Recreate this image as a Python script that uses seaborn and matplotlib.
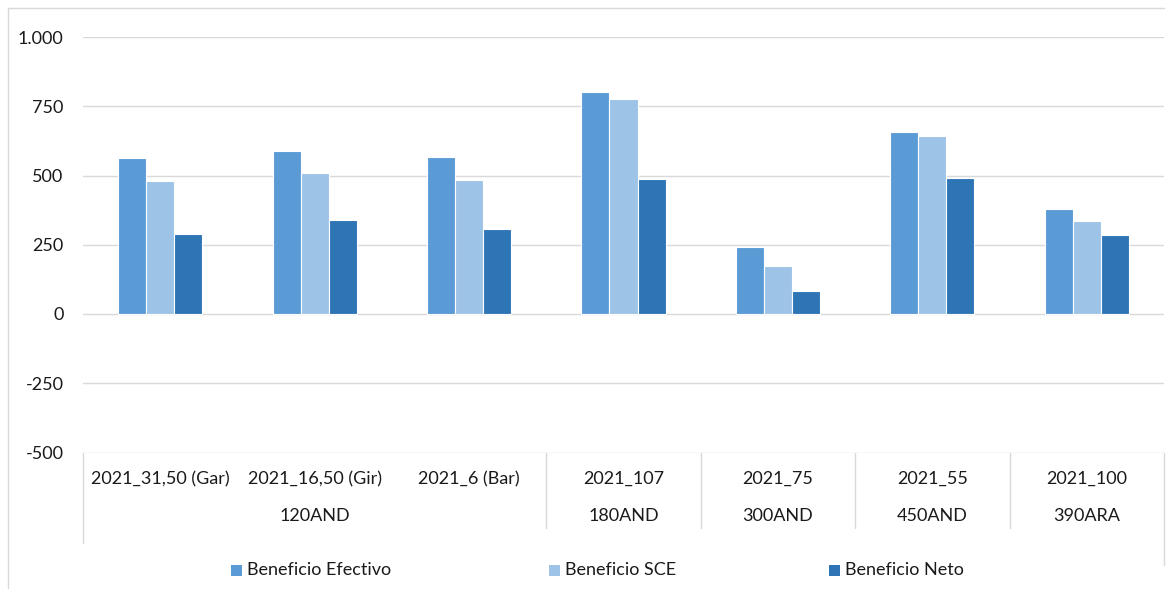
import matplotlib
matplotlib.use("Agg")
import matplotlib.pyplot as plt
import matplotlib.transforms as mtransforms
from matplotlib.patches import Rectangle
from matplotlib.lines import Line2D
import seaborn as sns
import pandas as pd

# ---- data ----
categories = ["2021_31,50 (Gar)", "2021_16,50 (Gir)", "2021_6 (Bar)",
              "2021_107", "2021_75", "2021_55", "2021_100"]
groups = ["120AND", "180AND", "300AND", "450AND", "390ARA"]
group_spans = [(0, 2), (3, 3), (4, 4), (5, 5), (6, 6)]
series = ["Beneficio Efectivo", "Beneficio SCE", "Beneficio Neto"]
efectivo = [564, 588, 566, 801, 242, 657, 379]
sce = [479, 508, 483, 775, 174, 642, 335]
neto = [289, 339, 307, 488, 83, 491, 284]
colors = ["#5B9BD5", "#9DC3E6", "#2E75B6"]
yticks = [-500, -250, 0, 250, 500, 750, 1000]

rows = []
for s, vals in zip(series, [efectivo, sce, neto]):
    for c, v in zip(categories, vals):
        rows.append({"cat": c, "serie": s, "valor": v})
df = pd.DataFrame(rows)

sns.set_theme(style="white")
plt.rcParams["font.family"] = ["Lato", "DejaVu Sans"]

FS = 13
TC = "#1a1a1a"
W, H = 1176, 589
fig = plt.figure(figsize=(W / 100, H / 100), dpi=100)
L, R, T, B = 83, 1164, 37, 452.5
ax = fig.add_axes([L / W, 1 - B / H, (R - L) / W, (B - T) / H])

sns.barplot(data=df, x="cat", y="valor", hue="serie", order=categories,
            hue_order=series, palette=colors, width=0.545, gap=0,
            saturation=1, edgecolor="white", linewidth=0.8, ax=ax,
            legend=False, zorder=3)

ax.set_ylim(-500, 1000)
ax.set_xlim(-0.5, len(categories) - 0.5)
ax.set_yticks(yticks)
ax.set_yticklabels([f"{v:,}".replace(",", ".") for v in yticks],
                   fontsize=FS, color=TC)
ax.tick_params(axis="y", length=0, pad=14)
ax.set_xticks([])
ax.set_xlabel("")
ax.set_ylabel("")
for sp in ax.spines.values():
    sp.set_visible(False)
ax.yaxis.grid(True, color="#D9D9D9", linewidth=1.0, zorder=0)
ax.set_axisbelow(True)

# multi-level category axis
tr = mtransforms.blended_transform_factory(ax.transData, fig.transFigure)
def fy(py):
    return 1 - py / H

for i, c in enumerate(categories):
    ax.text(i, fy(479), c, transform=tr, ha="center", va="center",
            fontsize=FS, color=TC, clip_on=False)
for g, (a, b) in zip(groups, group_spans):
    ax.text((a + b) / 2, fy(516), g, transform=tr, ha="center", va="center",
            fontsize=FS, color=TC, clip_on=False)

lc = "#D9D9D9"
ax.add_line(Line2D([-0.5, -0.5], [fy(B), fy(543)], transform=tr, color=lc,
                   lw=1.0, clip_on=False))
for xb in [2.5, 3.5, 4.5, 5.5]:
    ax.add_line(Line2D([xb, xb], [fy(B), fy(528)], transform=tr, color=lc,
                       lw=1.0, clip_on=False))
ax.add_line(Line2D([6.5, 6.5], [fy(B), fy(565)], transform=tr, color=lc,
                   lw=1.0, clip_on=False))

# outer chart frame (left and top)
fig.add_artist(Line2D([8 / W, 8 / W], [0, fy(8)], transform=fig.transFigure,
                      color=lc, lw=1.0))
fig.add_artist(Line2D([8 / W, 1164 / W], [fy(8), fy(8)],
                      transform=fig.transFigure, color=lc, lw=1.0))

# legend
leg_x = [231, 549, 829]
for x0, s, col in zip(leg_x, series, colors):
    fig.add_artist(Rectangle((x0 / W, fy(576)), 11 / W, 11 / H,
                             transform=fig.transFigure, facecolor=col,
                             edgecolor="none"))
    fig.text((x0 + 16) / W, fy(570), s, ha="left", va="center",
             fontsize=FS, color=TC)

fig.savefig("out.png", dpi=100)
